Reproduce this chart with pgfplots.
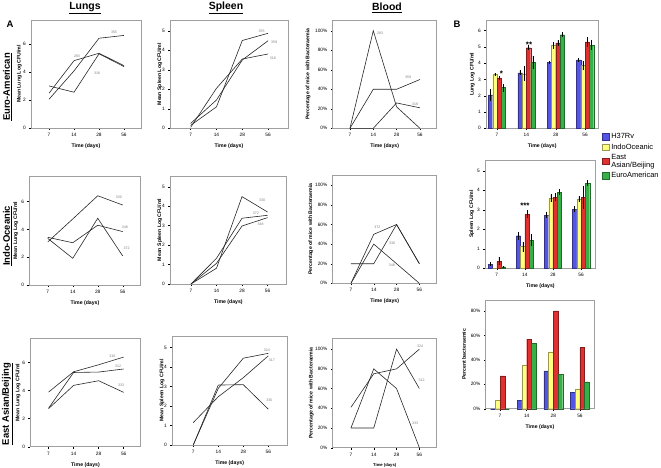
\documentclass[border=0pt]{standalone}
\usepackage{fontspec}
\setmainfont{Liberation Sans}
\usepackage{pgfplots}
\pgfplotsset{compat=1.18}

\definecolor{cblue}{RGB}{84,84,230}
\definecolor{cyellow}{RGB}{255,255,128}
\definecolor{cred}{RGB}{224,48,48}
\definecolor{cgreen}{RGB}{56,176,72}

\pgfplotsset{
  panel/.style={
    scale only axis,
    xtick={0,1,2,3}, xticklabels={7,14,28,56},
    ymin=0,
    tick pos=left, tick align=outside,
    major tick length=1.8bp,
    axis line style={gray!75, line width=0.6bp},
    tick style={black, line width=0.4bp},
    ticklabel style={font=\fontsize{4.8}{5}\selectfont},
    /pgf/number format/assume math mode=true,
    xlabel={Time (days)},
    label style={font=\bfseries\fontsize{5.2}{6}\selectfont},
    clip=false,
  },
  ylab/.style={every axis y label/.style={at={([xshift=-#1]rel axis cs:0,0.5)},
    rotate=90, anchor=south, inner sep=0pt, font=\bfseries\fontsize{5.2}{6}\selectfont}},
  pct/.style={ytick={0,20,40,60,80,100},
    yticklabels={0\%,20\%,40\%,60\%,80\%,100\%}},
  ser/.style={black!85, line width=0.6bp},
  bars/.style={panel, ybar=0pt, bar width=4.3bp},
  errs/.style={every axis plot/.append style={
    error bars/y dir=both, error bars/y explicit, error bars/error mark=none,
    error bars/error bar style={black, line width=0.4bp}}},
}
\newcommand\lab[3]{\node[font=\fontsize{3.6}{4}\selectfont, text=gray] at (axis cs:#1,#2) {#3};}
\newcommand\signif[3]{\node[font=\bfseries\fontsize{8}{8}\selectfont] at (axis cs:#1,#2) {#3};}

\begin{document}
\begin{tikzpicture}
\useasboundingbox (0,0) rectangle (661bp,-468bp);

% headings
\node[font=\bfseries\fontsize{10.5}{12}\selectfont] at (85bp,-8bp) {\underline{Lungs}};
\node[font=\bfseries\fontsize{10.5}{12}\selectfont] at (226bp,-8bp) {\underline{Spleen}};
\node[font=\bfseries\fontsize{10.5}{12}\selectfont] at (387bp,-8bp) {\underline{Blood}};
\node[font=\bfseries\fontsize{9.5}{11}\selectfont] at (10bp,-24bp) {A};
\node[font=\bfseries\fontsize{9.5}{11}\selectfont] at (457bp,-24bp) {B};
\node[rotate=90, font=\bfseries\fontsize{9.5}{11}\selectfont] at (7.5bp,-87bp) {\underline{Euro-American}};
\node[rotate=90, font=\bfseries\fontsize{9.5}{11}\selectfont] at (7.5bp,-236bp) {\underline{Indo-Oceanic}};
\node[rotate=90, font=\bfseries\fontsize{9.5}{11}\selectfont] at (7.5bp,-404bp) {\underline{East Asian/Beijing}};

% ---------------- row 1: Euro-American
\begin{axis}[panel, ylab=9bp, at={(31bp,-128bp)}, width=110bp, height=108bp,
  xmin=-0.72, xmax=3.68, ymax=7.7, ytick={0,2,4,6},
  ylabel={Mean Lung Log CFU/ml}]
\addplot[ser] coordinates {(0,2.05)(1,4.07)(2,6.4)(3,6.6)};
\addplot[ser] coordinates {(0,2.48)(1,4.8)(2,5.33)(3,4.45)};
\addplot[ser] coordinates {(0,3.0)(1,2.55)(2,5.29)(3,4.38)};
\lab{2.6}{6.8}{355}
\lab{1.12}{5.14}{283}
\lab{1.92}{3.93}{318}
\end{axis}

\begin{axis}[panel, ylab=7.7bp, at={(170bp,-128.3bp)}, width=118bp, height=108.3bp,
  xmin=-0.8, xmax=3.77, ymax=5.55, ytick={0,...,5},
  ylabel={Mean Spleen Log CFU/ml}]
\addplot[ser] coordinates {(0,0.15)(1,1.1)(2,4.5)(3,4.87)};
\addplot[ser] coordinates {(0,0.25)(1,1.45)(2,3.5)(3,4.49)};
\addplot[ser] coordinates {(0,0.05)(1,2.05)(2,3.55)(3,3.81)};
\lab{2.75}{4.95}{355}
\lab{3.23}{4.39}{359}
\lab{3.18}{3.59}{318}
\end{axis}

\begin{axis}[panel, pct, ylab=22bp, at={(332.7bp,-128.3bp)}, width=104bp, height=108.3bp,
  xmin=-0.74, xmax=3.72, ymax=111,
  ylabel={Percentage of mice with Bacteraemia}]
\addplot[ser] coordinates {(0,0)(1,100)(2,22)(3,0)};
\addplot[ser] coordinates {(0,0)(1,40)(2,40)(3,50)};
\addplot[ser] coordinates {(0,0)(1,0)(2,26)(3,21)};
\lab{1.29}{97.7}{283}
\lab{2.49}{51.9}{359}
\lab{2.79}{24.9}{318}
\end{axis}

\begin{axis}[bars, errs, ylab=11bp, at={(486bp,-128.3bp)}, width=112.3bp, height=108.3bp,
  xmin=-0.375, xmax=3.45, ymax=6.65, ytick={0,...,6},
  ylabel={Lung Log CFU/ml},
  legend style={at={(1.03,-0.03)}, anchor=north west, draw=none, fill=none,
    font=\fontsize{7.5}{8}\selectfont, inner sep=0pt, row sep=-0.5bp,
    cells={anchor=west, align=left}},
  legend image code/.code={\draw[#1, line width=0.4bp] (0bp,-3bp) rectangle (7bp,3.5bp);}]
\addplot[fill=cblue, draw=cblue!60!black, line width=0.3bp] coordinates
  {(0,2.05) +- (0,0.35) (1,3.4) +- (0,0.15) (2,4.05) +- (0,0.1) (3,4.2) +- (0,0.1)};
\addplot[fill=cyellow, draw=cyellow!60!black, line width=0.3bp] coordinates
  {(0,3.3) +- (0,0.1) (1,3.35) +- (0,0.45) (2,5.1) +- (0,0.2) (3,3.85) +- (0,0.3)};
\addplot[fill=cred, draw=cred!60!black, line width=0.3bp] coordinates
  {(0,3.1) +- (0,0.12) (1,4.95) +- (0,0.15) (2,5.25) +- (0,0.2) (3,5.3) +- (0,0.3)};
\addplot[fill=cgreen, draw=cgreen!60!black, line width=0.3bp] coordinates
  {(0,2.5) +- (0,0.25) (1,4.05) +- (0,0.4) (2,5.75) +- (0,0.15) (3,5.1) +- (0,0.3)};
\addlegendentry{H37Rv}
\addlegendentry{IndoOceanic}
\addlegendentry{East\\Asian/Beijing}
\addlegendentry{EuroAmerican}
\signif{0.15}{3.37}{*}
\signif{1.09}{5.15}{**}
\end{axis}

% ---------------- row 2: Indo-Oceanic
\begin{axis}[panel, ylab=11bp, at={(29.3bp,-285bp)}, width=111.4bp, height=109bp,
  xmin=-0.74, xmax=3.72, ymax=7.84, ytick={0,2,4,6},
  ylabel={Mean Lung Log CFU/ml}]
\addplot[ser] coordinates {(0,3.1)(1,4.75)(2,6.42)(3,5.75)};
\addplot[ser] coordinates {(0,3.43)(1,3.04)(2,4.3)(3,3.84)};
\addplot[ser] coordinates {(0,3.35)(1,1.92)(2,4.8)(3,2.09)};
\lab{2.85}{6.31}{330}
\lab{3.09}{4.12}{348}
\lab{3.16}{2.61}{372}
\end{axis}

\begin{axis}[panel, ylab=7.7bp, at={(170bp,-284bp)}, width=116.7bp, height=108bp,
  xmin=-0.82, xmax=3.75, ymax=5.55, ytick={0,...,5},
  ylabel={Mean Spleen Log CFU/ml}]
\addplot[ser] coordinates {(0,0)(1,0.81)(2,4.49)(3,3.7)};
\addplot[ser] coordinates {(0,0)(1,1.32)(2,3.38)(3,3.53)};
\addplot[ser] coordinates {(0,0)(1,1.06)(2,2.98)(3,3.41)};
\lab{2.79}{4.32}{330}
\lab{2.54}{3.63}{372}
\lab{2.73}{3.08}{348}
\end{axis}

\begin{axis}[panel, pct, ylab=19.4bp, at={(332.7bp,-283.3bp)}, width=104bp, height=108.3bp,
  xmin=-0.8, xmax=3.76, ymax=110.5,
  ylabel={Percentage of mice with Bacteraemia}]
\addplot[ser] coordinates {(0,0)(1,50)(2,60)(3,20)};
\addplot[ser] coordinates {(0,20)(1,20)(2,60)(3,20)};
\addplot[ser] coordinates {(0,0)(1,40)(2,20)(3,0)};
\lab{1.16}{57.1}{372}
\lab{1.81}{40.8}{330}
\lab{1.79}{18}{348}
\end{axis}

\begin{axis}[bars, errs, ylab=10.7bp, at={(485bp,-268.3bp)}, width=110.7bp, height=108.3bp,
  xmin=-0.42, xmax=3.52, ymax=5.55, ytick={0,...,5},
  ylabel={Spleen Log CFU/ml}]
\addplot[fill=cblue, draw=cblue!60!black, line width=0.3bp] coordinates
  {(0,0.22) +- (0,0.1) (1,1.67) +- (0,0.2) (2,2.73) +- (0,0.15) (3,3.03) +- (0,0.15)};
\addplot[fill=cyellow, draw=cyellow!60!black, line width=0.3bp] coordinates
  {(0,0) +- (0,0) (1,1.11) +- (0,0.25) (2,3.59) +- (0,0.2) (3,3.54) +- (0,0.15)};
\addplot[fill=cred, draw=cred!60!black, line width=0.3bp] coordinates
  {(0,0.37) +- (0,0.2) (1,2.77) +- (0,0.2) (2,3.64) +- (0,0.2) (3,3.64) +- (0,0.6)};
\addplot[fill=cgreen, draw=cgreen!60!black, line width=0.3bp] coordinates
  {(0,0.08) +- (0,0.03) (1,1.45) +- (0,0.3) (2,3.9) +- (0,0.15) (3,4.36) +- (0,0.15)};
\signif{1.0}{3.23}{***}
\end{axis}

% ---------------- row 3: East Asian/Beijing
\begin{axis}[panel, ylab=9.6bp, at={(30.3bp,-446.7bp)}, width=110.4bp, height=108.4bp,
  xmin=-0.73, xmax=3.68, ymax=7.74, ytick={0,2,4,6},
  ylabel={Mean Lung Log CFU/ml}]
\addplot[ser] coordinates {(0,3.9)(1,5.35)(2,5.85)(3,6.4)};
\addplot[ser] coordinates {(0,2.75)(1,5.3)(2,5.33)(3,5.55)};
\addplot[ser] coordinates {(0,2.72)(1,4.38)(2,4.71)(3,3.88)};
\lab{2.55}{6.48}{316}
\lab{2.78}{5.71}{312}
\lab{2.9}{4.41}{333}
\end{axis}

\begin{axis}[panel, ylab=7.3bp, at={(172bp,-445bp)}, width=115.3bp, height=109bp,
  xmin=-0.85, xmax=3.76, ymax=5.6, ytick={0,...,5},
  ylabel={Mean Spleen Log CFU/ml}]
\addplot[ser] coordinates {(0,1.15)(1,2.48)(2,3.46)(3,4.58)};
\addplot[ser] coordinates {(0,0)(1,3.08)(2,3.1)(3,1.84)};
\addplot[ser] coordinates {(0,0)(1,2.91)(2,4.46)(3,4.71)};
\lab{2.94}{4.88}{324}
\lab{3.14}{4.37}{317}
\lab{3.04}{2.28}{330}
\end{axis}

\begin{axis}[panel, pct, ylab=18.7bp, at={(332.7bp,-447.7bp)}, width=104bp, height=109.4bp,
  xmin=-0.8, xmax=3.76, ymax=111,
  ylabel={Percentage of mice with Bacteraemia},
  xlabel style={font=\bfseries\fontsize{4.2}{5}\selectfont}]
\addplot[ser] coordinates {(0,41)(1,75)(2,80)(3,100)};
\addplot[ser] coordinates {(0,20)(1,20)(2,100)(3,60)};
\addplot[ser] coordinates {(0,20)(1,80)(2,60)(3,0)};
\lab{3.03}{102.6}{324}
\lab{3.1}{68}{312}
\lab{2.81}{24.8}{333}
\end{axis}

\begin{axis}[bars, bar width=4.7bp, ylab=19.7bp, at={(485.7bp,-408.7bp)}, width=108.6bp, height=108.7bp,
  xmin=-0.54, xmax=3.54, ymax=89,
  ytick={0,20,40,60,80}, yticklabels={0\%,20\%,40\%,60\%,80\%},
  ylabel={Percent bacteraemic}]
\addplot[fill=cblue, draw=cblue!60!black, line width=0.3bp] coordinates {(0,0)(1,7)(2,30.9)(3,13.4)};
\addplot[fill=cyellow, draw=cyellow!60!black, line width=0.3bp] coordinates {(0,7.1)(1,35.6)(2,46.7)(3,15.9)};
\addplot[fill=cred, draw=cred!60!black, line width=0.3bp] coordinates {(0,26.8)(1,56.9)(2,80)(3,50)};
\addplot[fill=cgreen, draw=cgreen!60!black, line width=0.3bp] coordinates {(0,0)(1,53.6)(2,28.4)(3,21.9)};
\end{axis}
\end{tikzpicture}
\end{document}
